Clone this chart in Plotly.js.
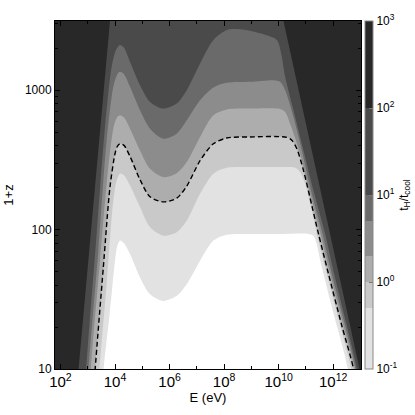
<!DOCTYPE html>
<html>
<head>
<meta charset="utf-8">
<script src="https://cdn.plot.ly/plotly-3.0.1.min.js"></script>
<style>html,body{margin:0;padding:0;background:#fff;}#chart{width:415px;height:415px;}</style>
</head>
<body>
<div id="chart"></div>
<script>
// contour levels of t_H / t_cool and band colours (band i lies between levels[i] and levels[i+1])
const levels = [0.1, 0.5, 1, 2, 5, 10, 100, 1000];
const bandColors = ['#e2e2e2', '#c9c9c9', '#adadad', '#8c8c8c', '#6a6a6a', '#4a4a4a', '#282828'];
const belowColor = '#ffffff';

// boundary curves: E (eV) and 1+z
const E_100 = [279.6, 451, 6553, 12810, 2.971e9, 1.504e10, 9.79e12, 3.108e13];
const Y_100 = [3.39, 9.51, 3136, 13400, 13400, 3136, 9.51, 3.39];

const E_10 = [651, 863, 2124, 4295, 7545, 10880, 15260, 21390, 35530, 82700, 192500, 593800, 1.832e6, 4.266e6, 1.316e7, 4.062e7, 1.253e8, 3.866e8, 2.095e9, 8.566e9, 1.235e10, 1.732e10, 3.503e10, 8.154e10, 1.898e11, 5.087e11, 1.088e12, 3.173e12, 7.816e12, 1.537e13];
const Y_10 = [3.39, 9.51, 93.1, 545, 1472, 1940, 2107, 2016, 1599, 1086, 824, 738, 802, 1000, 1555, 2289, 2702, 2733, 2557, 2289, 1836, 1247, 718, 370, 190.8, 93.1, 48.0, 20.4, 9.51, 3.39];

const E_5 = [792, 1051, 2446, 4945, 8686, 12180, 15260, 21390, 35530, 82700, 192500, 593800, 1.832e6, 4.266e6, 1.316e7, 4.062e7, 1.253e8, 9.0e8, 6.462e9, 1.135e10, 1.732e10, 3.503e10, 7.085e10, 1.649e11, 4.061e11, 8.936e11, 2.757e12, 6.982e12, 1.412e13];
const Y_5 = [3.39, 9.51, 70.6, 437, 1057, 1304, 1355, 1304, 1057, 718, 530, 449, 488, 608, 847, 1045, 1129, 1148, 1180, 1148, 1000, 643, 370, 180.6, 93.1, 48.0, 20.4, 9.51, 3.39];

const E_2 = [965, 1279, 2815, 5692, 9190, 12180, 15260, 21390, 35530, 82700, 192500, 593800, 1.832e6, 4.266e6, 1.316e7, 4.062e7, 1.253e8, 9.0e8, 1.135e10, 1.732e10, 2.642e10, 6.152e10, 1.432e11, 3.429e11, 7.761e11, 2.394e12, 6.600e12, 1.298e13];
const Y_2 = [3.39, 9.51, 59.8, 281, 560, 643, 661, 636, 530, 370, 273, 238, 254, 305, 462, 661, 726, 738, 734, 698, 575.6, 350.3, 180.6, 93.1, 48.0, 20.4, 9.51, 3.39];

const E_1 = [1316, 1845, 3732, 6553, 10000, 12180, 15260, 21390, 35530, 82700, 192500, 593800, 1.832e6, 4.266e6, 1.316e7, 4.062e7, 1.253e8, 9.0e8, 1.994e10, 3.042e10, 4.642e10, 8.154e10, 1.649e11, 2.895e11, 6.742e11, 2.080e12, 5.896e12, 1.127e13];
const Y_1 = [3.39, 9.51, 53.6, 202, 350, 396, 413, 402, 335, 228, 172, 158, 168, 205, 312, 413, 454, 462, 459, 436.9, 380.4, 265.8, 148.9, 93.1, 48.0, 20.4, 9.51, 3.39];

const E_05 = [2009, 2662, 4945, 8686, 11510, 15260, 21390, 35530, 82700, 192500, 593800, 1.832e6, 4.266e6, 1.316e7, 4.062e7, 1.253e8, 9.0e8, 1.504e10, 4.033e10, 6.152e10, 9.387e10, 1.649e11, 2.515e11, 5.857e11, 1.807e12, 4.842e12, 8.505e12];
const Y_05 = [3.39, 9.51, 40.6, 162, 225, 252, 245, 207, 145, 104, 90.5, 95.7, 116, 181, 252, 278, 281, 281, 277.7, 258.5, 213.1, 137.0, 93.1, 48.0, 20.4, 9.51, 3.39];

const E_01 = [2815, 3732, 6553, 10000, 12180, 15260, 21390, 35530, 82700, 192500, 593800, 1.832e6, 4.266e6, 1.316e7, 4.062e7, 1.253e8, 9.0e8, 1.504e10, 1.244e11, 1.898e11, 2.377e11, 3.838e11, 9.72e11, 3.653e12, 5.574e12];
const Y_01 = [3.39, 9.51, 26.1, 59.8, 76.7, 83.4, 79.7, 66.8, 45.4, 34.4, 30.8, 33.5, 40.6, 59.8, 83.4, 92.0, 93.1, 93.1, 93.1, 90.0, 81.1, 53.6, 26.1, 9.51, 3.39];

// colorbar tick labels
const cbTickVals = [-1, 0, 1, 2, 3];
const cbTickText = ['10<sup>-1</sup>', '10<sup>0</sup>', '10<sup>1</sup>', '10<sup>2</sup>', '10<sup>3</sup>'];

// ---------- build ----------
const lmin = Math.log10(levels[0]), lmax = Math.log10(levels[levels.length - 1]);
const colorscale = [];
for (let i = 0; i < bandColors.length; i++) {
  const a = (Math.log10(levels[i]) - lmin) / (lmax - lmin);
  const b = (Math.log10(levels[i + 1]) - lmin) / (lmax - lmin);
  colorscale.push([a, bandColors[i]]);
  colorscale.push([b, bandColors[i]]);
}

const regions = [
  {x: E_100, y: Y_100, c: bandColors[5], shape: 'linear'},
  {x: E_10, y: Y_10, c: bandColors[4], shape: 'spline'},
  {x: E_5, y: Y_5, c: bandColors[3], shape: 'spline'},
  {x: E_2, y: Y_2, c: bandColors[2], shape: 'spline'},
  {x: E_1, y: Y_1, c: bandColors[1], shape: 'spline'},
  {x: E_05, y: Y_05, c: bandColors[0], shape: 'spline'},
  {x: E_01, y: Y_01, c: belowColor, shape: 'spline'}
];

const traces = regions.map(r => ({
  type: 'scatter', mode: 'lines', x: r.x, y: r.y,
  fill: 'toself', fillcolor: r.c,
  line: {width: 0, color: r.c, shape: r.shape, smoothing: 0.8},
  hoverinfo: 'skip', showlegend: false
}));

traces.push({
  type: 'scatter', mode: 'lines', x: E_1, y: Y_1,
  line: {color: '#000', width: 1.4, dash: '5px,3px', shape: 'spline', smoothing: 0.8},
  hoverinfo: 'skip', showlegend: false
});

traces.push({
  type: 'scatter', mode: 'markers', x: [null], y: [null],
  marker: {
    color: [0], colorscale: colorscale, cmin: lmin, cmax: lmax, showscale: true, size: 0,
    colorbar: {
      x: 1.013, xanchor: 'left', xpad: 0, y: 0.5, yanchor: 'middle', ypad: 0,
      len: 1, lenmode: 'fraction', thickness: 8, thicknessmode: 'pixels',
      outlinewidth: 1, outlinecolor: '#888',
      tickmode: 'array', tickvals: cbTickVals, ticktext: cbTickText,
      ticks: 'inside', ticklen: 4, tickcolor: '#777', tickwidth: 1,
      tickfont: {size: 12, color: '#000', family: 'Liberation Sans, Arial, sans-serif'},
      title: {text: 't<sub>H</sub>/t<sub>cool</sub>', side: 'right',
              font: {size: 12, color: '#000', family: 'Liberation Sans, Arial, sans-serif'}}
    }
  },
  hoverinfo: 'skip', showlegend: false
});

const font = {family: 'Liberation Sans, Arial, sans-serif', size: 12, color: '#000'};
const layout = {
  width: 415, height: 415,
  margin: {l: 55, r: 54, t: 21, b: 46, pad: 0, autoexpand: false},
  paper_bgcolor: '#ffffff', plot_bgcolor: bandColors[6],
  font: font, showlegend: false, hovermode: false,
  xaxis: {
    type: 'log', range: [1.8, 13.02], dtick: 2, tick0: 0,
    exponentformat: 'power', showexponent: 'all',
    ticks: 'inside', ticklen: 5, tickcolor: '#000', tickwidth: 1,
    minor: {dtick: 1, ticks: 'inside', ticklen: 3, tickcolor: '#000'},
    showline: true, linecolor: '#000', linewidth: 1, mirror: 'ticks',
    showgrid: false, zeroline: false, layer: 'above traces',
    tickfont: {size: 12},
    title: {text: 'E (eV)', font: {size: 13}, standoff: 3}
  },
  yaxis: {
    type: 'log', range: [1, 3.4964], dtick: 1,
    ticks: 'inside', ticklen: 5, tickcolor: '#000', tickwidth: 1,
    minor: {dtick: 'D1', ticks: 'inside', ticklen: 3, tickcolor: '#000'},
    showline: true, linecolor: '#000', linewidth: 1, mirror: 'ticks',
    showgrid: false, zeroline: false, layer: 'above traces',
    tickfont: {size: 12},
    title: {text: '1+z', font: {size: 13}, standoff: 8}
  }
};

Plotly.newPlot('chart', traces, layout, {staticPlot: true, displayModeBar: false});
</script>
</body>
</html>
